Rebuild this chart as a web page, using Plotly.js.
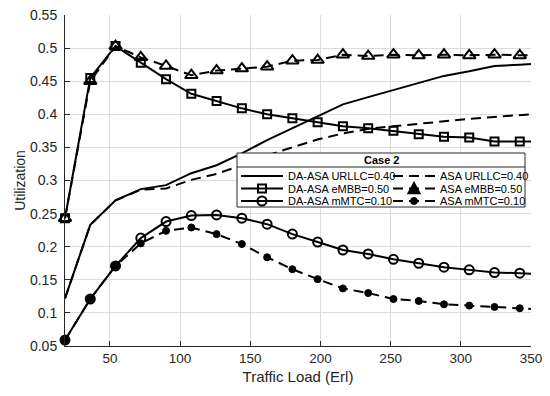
<!DOCTYPE html>
<html>
<head>
<meta charset="utf-8">
<script src="https://cdn.plot.ly/plotly-3.0.1.min.js"></script>
<style>html,body{margin:0;padding:0;background:#fff;}#chart{width:550px;height:396px;}</style>
</head>
<body>
<div id="chart"></div>
<script>
// Traffic load (Erl)
const trafficLoad = [18,36,54,72,90,108,126,144,162,180,198,216,234,252,270,288,306,324,342,350];
// Utilization series
const daAsaUrllc = [0.122,0.233,0.270,0.287,0.293,0.311,0.323,0.341,0.361,0.379,0.397,0.415,0.426,0.437,0.447,0.458,0.465,0.473,0.475,0.476];
const asaUrllc   = [0.122,0.233,0.270,0.286,0.288,0.301,0.310,0.323,0.338,0.350,0.362,0.371,0.378,0.382,0.386,0.390,0.393,0.396,0.399,0.400];
const daAsaEmbb  = [0.243,0.455,0.503,0.478,0.453,0.431,0.420,0.409,0.400,0.394,0.388,0.382,0.379,0.375,0.370,0.366,0.365,0.359,0.359,0.359];
const asaEmbb    = [0.243,0.450,0.503,0.486,0.473,0.459,0.466,0.469,0.472,0.481,0.482,0.490,0.488,0.490,0.489,0.490,0.489,0.490,0.489,0.489];
const daAsaMmtc  = [0.059,0.121,0.171,0.213,0.238,0.247,0.248,0.243,0.234,0.219,0.207,0.195,0.189,0.181,0.175,0.169,0.165,0.161,0.160,0.159];
const asaMmtc    = [0.059,0.121,0.171,0.205,0.224,0.229,0.219,0.204,0.184,0.166,0.151,0.137,0.130,0.121,0.118,0.113,0.111,0.109,0.107,0.106];

const seriesNames = ['DA-ASA URLLC=0.40','ASA URLLC=0.40','DA-ASA eMBB=0.50','ASA eMBB=0.50','DA-ASA mMTC=0.10','ASA mMTC=0.10'];
const legendTitle = 'Case 2';
const yTickVals = [0.05,0.1,0.15,0.2,0.25,0.3,0.35,0.4,0.45,0.5,0.55];
const yTickText = ['0.05','0.1','0.15','0.2','0.25','0.3','0.35','0.4','0.45','0.5','0.55'];
const xTickVals = [50,100,150,200,250,300,350];

const FONT = 'Liberation Sans, Arial, sans-serif';
const markerOpacity = trafficLoad.map(v => v === 350 ? 0 : 1);
const DASH = '10px,6px';

function tr(y, name, dash, symbol, size, mlw) {
  const t = {
    x: trafficLoad, y: y, name: name, type: 'scatter',
    mode: symbol ? 'lines+markers' : 'lines',
    cliponaxis: false, showlegend: false,
    line: {color: '#000', width: 2, dash: dash}
  };
  if (symbol) t.marker = {symbol: symbol, size: size, color: '#000', opacity: markerOpacity,
    line: {color: '#000', width: mlw}};
  return t;
}

const data = [
  tr(daAsaUrllc, seriesNames[0], 'solid'),
  tr(asaUrllc, seriesNames[1], DASH),
  tr(daAsaEmbb, seriesNames[2], 'solid', 'square-open', 8, 2),
  tr(asaEmbb, seriesNames[3], DASH, 'triangle-up-open', 11, 2),
  tr(daAsaMmtc, seriesNames[4], 'solid', 'circle-open', 9, 2),
  tr(asaMmtc, seriesNames[5], DASH, 'circle', 7, 1)
];

// Manual legend (pixel -> paper helpers)
const L = 65, R = 531, T = 15, B = 346;
const P = px => (px - L) / (R - L);
const Q = py => (B - py) / (B - T);
const rows = [176, 188.5, 201];
const shapes = [
  {type:'rect', xref:'paper', yref:'paper', x0:P(237), x1:P(525), y0:Q(207), y1:Q(153),
   fillcolor:'#fff', line:{color:'#262626', width:1}, layer:'above'},
  {type:'line', xref:'paper', yref:'paper', x0:P(237), x1:P(525), y0:Q(167), y1:Q(167),
   line:{color:'#262626', width:1}, layer:'above'}
];
rows.forEach(r => {
  shapes.push({type:'line', xref:'paper', yref:'paper', x0:P(241), x1:P(283), y0:Q(r), y1:Q(r),
    line:{color:'#000', width:2}, layer:'above'});
  shapes.push({type:'line', xref:'paper', yref:'paper', x0:P(393), x1:P(435), y0:Q(r), y1:Q(r),
    line:{color:'#000', width:2, dash:DASH}, layer:'above'});
});
// legend marker glyphs
shapes.push({type:'rect', xref:'paper', yref:'paper', x0:P(258), x1:P(266), y0:Q(rows[1]+4), y1:Q(rows[1]-4),
  fillcolor:'rgba(0,0,0,0)', line:{color:'#000', width:2}, layer:'above'});
shapes.push({type:'circle', xref:'paper', yref:'paper', x0:P(257.5), x1:P(266.5), y0:Q(rows[2]+4.5), y1:Q(rows[2]-4.5),
  fillcolor:'rgba(0,0,0,0)', line:{color:'#000', width:2}, layer:'above'});
shapes.push({type:'path', xref:'paper', yref:'paper',
  path:`M ${P(408)} ${Q(rows[1]+5)} L ${P(420)} ${Q(rows[1]+5)} L ${P(414)} ${Q(rows[1]-6)} Z`,
  fillcolor:'#000', line:{color:'#000', width:1.5}, layer:'above'});
shapes.push({type:'circle', xref:'paper', yref:'paper', x0:P(410.5), x1:P(417.5), y0:Q(rows[2]+3.5), y1:Q(rows[2]-3.5),
  fillcolor:'#000', line:{color:'#000', width:1}, layer:'above'});

const annotations = [
  {xref:'paper', yref:'paper', x:P(381), y:Q(160.5), text:'<b>'+legendTitle+'</b>', showarrow:false,
   xanchor:'center', yanchor:'middle', font:{family:FONT, size:11, color:'#000'}}
];
const colX = [286, 438];
seriesNames.forEach((n, i) => {
  annotations.push({xref:'paper', yref:'paper', x:P(colX[i % 2]), y:Q(rows[Math.floor(i / 2)]), text:n,
    showarrow:false, xanchor:'left', yanchor:'middle', font:{family:FONT, size:11, color:'#000'}});
});

const layout = {
  width: 550, height: 396,
  margin: {l: L, r: 550 - R, t: T, b: 396 - B},
  paper_bgcolor: '#fff', plot_bgcolor: '#fff',
  font: {family: FONT, color: '#262626'},
  showlegend: false,
  xaxis: {
    range: [18, 350], tickvals: xTickVals, ticks: 'inside', ticklen: 5, tickcolor: '#262626',
    showline: true, linecolor: '#262626', linewidth: 1, mirror: false,
    showgrid: true, gridcolor: '#dcdcdc', gridwidth: 1, zeroline: false,
    tickfont: {family: FONT, size: 13.5, color: '#262626'},
    title: {text: 'Traffic Load (Erl)', font: {family: FONT, size: 15, color: '#262626'}, standoff: 6}
  },
  yaxis: {
    range: [0.05, 0.55], tickvals: yTickVals, ticktext: yTickText, ticks: 'inside', ticklen: 5, tickcolor: '#262626',
    showline: true, linecolor: '#262626', linewidth: 1, mirror: false,
    showgrid: true, gridcolor: '#dcdcdc', gridwidth: 1, zeroline: false,
    ticklabelstandoff: 4,
    tickfont: {family: FONT, size: 14, color: '#262626'},
    title: {text: 'Utilization', font: {family: FONT, size: 14, color: '#262626'}, standoff: 1}
  },
  shapes: shapes,
  annotations: annotations
};

Plotly.newPlot('chart', data, layout, {displayModeBar: false, staticPlot: true});
</script>
</body>
</html>
